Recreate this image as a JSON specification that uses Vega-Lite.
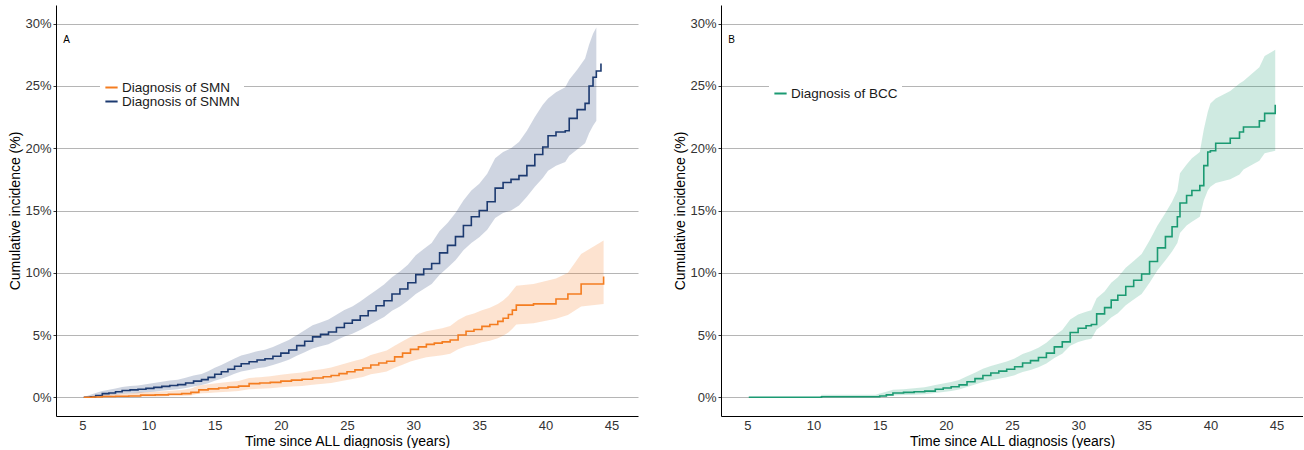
{
  "$schema": "https://vega.github.io/schema/vega-lite/v6.json",
  "padding": {"left": 8, "top": 5, "right": 0, "bottom": 0},
  "background": "white",
  "spacing": 35,
  "config": {
    "font": "Liberation Sans",
    "view": {"stroke": null},
    "axis": {
      "domainColor": "black", "domainWidth": 1,
      "labelFont": "Liberation Sans", "labelFontSize": 13, "labelColor": "#333333",
      "titleFont": "Liberation Sans", "titleFontSize": 14, "titleFontWeight": "normal", "titleColor": "black",
      "tickColor": "#333333", "gridColor": "#b5b5b5", "gridWidth": 1
    },
    "legend": {"labelFont": "Liberation Sans"}
  },
  "datasets": {
    "a": [
      {"s":"Diagnosis of SNMN","t":5.1,"est":0,"lo":0,"hi":0},
      {"s":"Diagnosis of SNMN","t":5.6,"est":0.05,"lo":0,"hi":0.2},
      {"s":"Diagnosis of SNMN","t":6.0,"est":0.15,"lo":0.02,"hi":0.35},
      {"s":"Diagnosis of SNMN","t":6.5,"est":0.3,"lo":0.1,"hi":0.5},
      {"s":"Diagnosis of SNMN","t":7.0,"est":0.35,"lo":0.12,"hi":0.6},
      {"s":"Diagnosis of SNMN","t":7.5,"est":0.45,"lo":0.2,"hi":0.7},
      {"s":"Diagnosis of SNMN","t":8.0,"est":0.55,"lo":0.27,"hi":0.82},
      {"s":"Diagnosis of SNMN","t":8.6,"est":0.6,"lo":0.3,"hi":0.9},
      {"s":"Diagnosis of SNMN","t":9.2,"est":0.65,"lo":0.33,"hi":0.95},
      {"s":"Diagnosis of SNMN","t":9.8,"est":0.72,"lo":0.4,"hi":1.05},
      {"s":"Diagnosis of SNMN","t":10.4,"est":0.8,"lo":0.45,"hi":1.15},
      {"s":"Diagnosis of SNMN","t":11.0,"est":0.88,"lo":0.52,"hi":1.25},
      {"s":"Diagnosis of SNMN","t":11.6,"est":0.95,"lo":0.58,"hi":1.35},
      {"s":"Diagnosis of SNMN","t":12.2,"est":1.02,"lo":0.64,"hi":1.42},
      {"s":"Diagnosis of SNMN","t":12.8,"est":1.15,"lo":0.75,"hi":1.58},
      {"s":"Diagnosis of SNMN","t":13.4,"est":1.3,"lo":0.87,"hi":1.75},
      {"s":"Diagnosis of SNMN","t":14.0,"est":1.42,"lo":0.98,"hi":1.88},
      {"s":"Diagnosis of SNMN","t":14.5,"est":1.6,"lo":1.12,"hi":2.1},
      {"s":"Diagnosis of SNMN","t":15.0,"est":1.85,"lo":1.33,"hi":2.38},
      {"s":"Diagnosis of SNMN","t":15.5,"est":2.05,"lo":1.5,"hi":2.6},
      {"s":"Diagnosis of SNMN","t":16.0,"est":2.25,"lo":1.68,"hi":2.85},
      {"s":"Diagnosis of SNMN","t":16.5,"est":2.5,"lo":1.9,"hi":3.12},
      {"s":"Diagnosis of SNMN","t":17.0,"est":2.7,"lo":2.07,"hi":3.35},
      {"s":"Diagnosis of SNMN","t":17.6,"est":2.85,"lo":2.2,"hi":3.52},
      {"s":"Diagnosis of SNMN","t":18.2,"est":3.0,"lo":2.33,"hi":3.7},
      {"s":"Diagnosis of SNMN","t":18.8,"est":3.1,"lo":2.42,"hi":3.82},
      {"s":"Diagnosis of SNMN","t":19.4,"est":3.3,"lo":2.6,"hi":4.05},
      {"s":"Diagnosis of SNMN","t":20.0,"est":3.55,"lo":2.8,"hi":4.32},
      {"s":"Diagnosis of SNMN","t":20.6,"est":3.8,"lo":3.02,"hi":4.6},
      {"s":"Diagnosis of SNMN","t":21.2,"est":4.15,"lo":3.33,"hi":4.98},
      {"s":"Diagnosis of SNMN","t":21.8,"est":4.5,"lo":3.62,"hi":5.38},
      {"s":"Diagnosis of SNMN","t":22.4,"est":4.85,"lo":3.92,"hi":5.78},
      {"s":"Diagnosis of SNMN","t":23.0,"est":5.05,"lo":4.1,"hi":6.0},
      {"s":"Diagnosis of SNMN","t":23.6,"est":5.25,"lo":4.27,"hi":6.25},
      {"s":"Diagnosis of SNMN","t":24.2,"est":5.6,"lo":4.58,"hi":6.62},
      {"s":"Diagnosis of SNMN","t":24.8,"est":5.95,"lo":4.88,"hi":7.02},
      {"s":"Diagnosis of SNMN","t":25.4,"est":6.2,"lo":5.1,"hi":7.3},
      {"s":"Diagnosis of SNMN","t":26.0,"est":6.55,"lo":5.4,"hi":7.7},
      {"s":"Diagnosis of SNMN","t":26.6,"est":6.95,"lo":5.75,"hi":8.15},
      {"s":"Diagnosis of SNMN","t":27.2,"est":7.35,"lo":6.1,"hi":8.6},
      {"s":"Diagnosis of SNMN","t":27.8,"est":7.75,"lo":6.45,"hi":9.05},
      {"s":"Diagnosis of SNMN","t":28.4,"est":8.3,"lo":6.95,"hi":9.65},
      {"s":"Diagnosis of SNMN","t":29.0,"est":8.7,"lo":7.3,"hi":10.1},
      {"s":"Diagnosis of SNMN","t":29.6,"est":9.2,"lo":7.75,"hi":10.65},
      {"s":"Diagnosis of SNMN","t":30.2,"est":9.85,"lo":8.3,"hi":11.4},
      {"s":"Diagnosis of SNMN","t":30.8,"est":10.3,"lo":8.7,"hi":11.9},
      {"s":"Diagnosis of SNMN","t":31.4,"est":10.75,"lo":9.1,"hi":12.4},
      {"s":"Diagnosis of SNMN","t":32.0,"est":11.6,"lo":9.85,"hi":13.35},
      {"s":"Diagnosis of SNMN","t":32.6,"est":12.2,"lo":10.4,"hi":14.0},
      {"s":"Diagnosis of SNMN","t":33.2,"est":12.9,"lo":11.0,"hi":14.8},
      {"s":"Diagnosis of SNMN","t":33.8,"est":13.8,"lo":11.8,"hi":15.8},
      {"s":"Diagnosis of SNMN","t":34.4,"est":14.5,"lo":12.4,"hi":16.6},
      {"s":"Diagnosis of SNMN","t":35.0,"est":15.0,"lo":12.85,"hi":17.15},
      {"s":"Diagnosis of SNMN","t":35.6,"est":15.7,"lo":13.45,"hi":17.95},
      {"s":"Diagnosis of SNMN","t":36.2,"est":16.8,"lo":14.4,"hi":19.2},
      {"s":"Diagnosis of SNMN","t":36.8,"est":17.25,"lo":14.8,"hi":19.7},
      {"s":"Diagnosis of SNMN","t":37.4,"est":17.5,"lo":15.0,"hi":20.0},
      {"s":"Diagnosis of SNMN","t":38.0,"est":17.8,"lo":15.4,"hi":20.5},
      {"s":"Diagnosis of SNMN","t":38.6,"est":18.6,"lo":16.1,"hi":21.4},
      {"s":"Diagnosis of SNMN","t":39.2,"est":19.5,"lo":16.9,"hi":22.5},
      {"s":"Diagnosis of SNMN","t":39.8,"est":20.1,"lo":17.6,"hi":23.5},
      {"s":"Diagnosis of SNMN","t":40.2,"est":21.0,"lo":18.2,"hi":24.0},
      {"s":"Diagnosis of SNMN","t":40.8,"est":21.3,"lo":18.6,"hi":24.5},
      {"s":"Diagnosis of SNMN","t":41.5,"est":21.4,"lo":18.9,"hi":24.9},
      {"s":"Diagnosis of SNMN","t":41.8,"est":22.4,"lo":19.4,"hi":25.5},
      {"s":"Diagnosis of SNMN","t":42.4,"est":23.1,"lo":19.9,"hi":26.3},
      {"s":"Diagnosis of SNMN","t":43.0,"est":23.6,"lo":20.4,"hi":27.2},
      {"s":"Diagnosis of SNMN","t":43.3,"est":25.0,"lo":21.2,"hi":28.3},
      {"s":"Diagnosis of SNMN","t":43.6,"est":25.7,"lo":21.8,"hi":29.2},
      {"s":"Diagnosis of SNMN","t":43.85,"est":26.2,"lo":22.2,"hi":29.7},
      {"s":"Diagnosis of SNMN","t":44.2,"est":26.8},
      {"s":"Diagnosis of SMN","t":5.1,"est":0,"lo":0,"hi":0},
      {"s":"Diagnosis of SMN","t":5.8,"est":0.03,"lo":0,"hi":0.12},
      {"s":"Diagnosis of SMN","t":6.5,"est":0.06,"lo":0,"hi":0.2},
      {"s":"Diagnosis of SMN","t":7.5,"est":0.08,"lo":0,"hi":0.25},
      {"s":"Diagnosis of SMN","t":8.5,"est":0.1,"lo":0.01,"hi":0.3},
      {"s":"Diagnosis of SMN","t":9.4,"est":0.18,"lo":0.04,"hi":0.4},
      {"s":"Diagnosis of SMN","t":10.5,"est":0.2,"lo":0.05,"hi":0.45},
      {"s":"Diagnosis of SMN","t":11.5,"est":0.25,"lo":0.08,"hi":0.5},
      {"s":"Diagnosis of SMN","t":12.5,"est":0.3,"lo":0.1,"hi":0.58},
      {"s":"Diagnosis of SMN","t":13.2,"est":0.4,"lo":0.15,"hi":0.7},
      {"s":"Diagnosis of SMN","t":13.8,"est":0.6,"lo":0.3,"hi":0.95},
      {"s":"Diagnosis of SMN","t":14.5,"est":0.68,"lo":0.35,"hi":1.05},
      {"s":"Diagnosis of SMN","t":15.3,"est":0.75,"lo":0.4,"hi":1.15},
      {"s":"Diagnosis of SMN","t":16.0,"est":0.82,"lo":0.45,"hi":1.23},
      {"s":"Diagnosis of SMN","t":16.8,"est":0.9,"lo":0.5,"hi":1.32},
      {"s":"Diagnosis of SMN","t":17.6,"est":1.1,"lo":0.65,"hi":1.55},
      {"s":"Diagnosis of SMN","t":18.4,"est":1.15,"lo":0.68,"hi":1.62},
      {"s":"Diagnosis of SMN","t":19.2,"est":1.2,"lo":0.72,"hi":1.7},
      {"s":"Diagnosis of SMN","t":20.0,"est":1.3,"lo":0.8,"hi":1.82},
      {"s":"Diagnosis of SMN","t":20.8,"est":1.38,"lo":0.86,"hi":1.92},
      {"s":"Diagnosis of SMN","t":21.6,"est":1.45,"lo":0.9,"hi":2.0},
      {"s":"Diagnosis of SMN","t":22.4,"est":1.55,"lo":1.0,"hi":2.15},
      {"s":"Diagnosis of SMN","t":23.2,"est":1.65,"lo":1.08,"hi":2.28},
      {"s":"Diagnosis of SMN","t":23.8,"est":1.75,"lo":1.15,"hi":2.4},
      {"s":"Diagnosis of SMN","t":24.4,"est":1.9,"lo":1.28,"hi":2.57},
      {"s":"Diagnosis of SMN","t":25.0,"est":2.05,"lo":1.4,"hi":2.75},
      {"s":"Diagnosis of SMN","t":25.6,"est":2.2,"lo":1.52,"hi":2.93},
      {"s":"Diagnosis of SMN","t":26.2,"est":2.35,"lo":1.64,"hi":3.1},
      {"s":"Diagnosis of SMN","t":26.8,"est":2.6,"lo":1.85,"hi":3.4},
      {"s":"Diagnosis of SMN","t":27.4,"est":2.75,"lo":1.96,"hi":3.58},
      {"s":"Diagnosis of SMN","t":28.0,"est":2.9,"lo":2.08,"hi":3.75},
      {"s":"Diagnosis of SMN","t":28.6,"est":3.25,"lo":2.38,"hi":4.15},
      {"s":"Diagnosis of SMN","t":29.2,"est":3.55,"lo":2.62,"hi":4.5},
      {"s":"Diagnosis of SMN","t":29.8,"est":3.85,"lo":2.88,"hi":4.85},
      {"s":"Diagnosis of SMN","t":30.4,"est":4.05,"lo":3.05,"hi":5.08},
      {"s":"Diagnosis of SMN","t":31.0,"est":4.25,"lo":3.22,"hi":5.3},
      {"s":"Diagnosis of SMN","t":31.6,"est":4.35,"lo":3.3,"hi":5.42},
      {"s":"Diagnosis of SMN","t":32.2,"est":4.45,"lo":3.38,"hi":5.55},
      {"s":"Diagnosis of SMN","t":32.8,"est":4.6,"lo":3.5,"hi":5.72},
      {"s":"Diagnosis of SMN","t":33.4,"est":5.0,"lo":3.85,"hi":6.2},
      {"s":"Diagnosis of SMN","t":34.0,"est":5.3,"lo":4.1,"hi":6.55},
      {"s":"Diagnosis of SMN","t":34.6,"est":5.45,"lo":4.22,"hi":6.72},
      {"s":"Diagnosis of SMN","t":35.2,"est":5.7,"lo":4.42,"hi":7.0},
      {"s":"Diagnosis of SMN","t":35.8,"est":5.85,"lo":4.55,"hi":7.2},
      {"s":"Diagnosis of SMN","t":36.4,"est":6.1,"lo":4.75,"hi":7.5},
      {"s":"Diagnosis of SMN","t":36.8,"est":6.35,"lo":4.95,"hi":7.78},
      {"s":"Diagnosis of SMN","t":37.2,"est":6.65,"lo":5.2,"hi":8.15},
      {"s":"Diagnosis of SMN","t":37.5,"est":7.0,"lo":5.5,"hi":8.55},
      {"s":"Diagnosis of SMN","t":37.8,"est":7.4,"lo":5.85,"hi":8.95},
      {"s":"Diagnosis of SMN","t":39.1,"est":7.5,"lo":5.95,"hi":9.1},
      {"s":"Diagnosis of SMN","t":40.8,"est":7.9,"lo":6.3,"hi":9.55},
      {"s":"Diagnosis of SMN","t":41.7,"est":8.3,"lo":6.6,"hi":10.0},
      {"s":"Diagnosis of SMN","t":42.7,"est":9.1,"lo":7.3,"hi":11.5},
      {"s":"Diagnosis of SMN","t":44.4,"est":9.7,"lo":7.5,"hi":12.6}
    ],
    "b": [
      {"s":"Diagnosis of BCC","t":5.1,"est":0,"lo":0,"hi":0},
      {"s":"Diagnosis of BCC","t":10.5,"est":0,"lo":0,"hi":0},
      {"s":"Diagnosis of BCC","t":10.6,"est":0.05,"lo":0,"hi":0.2},
      {"s":"Diagnosis of BCC","t":14.7,"est":0.05,"lo":0,"hi":0.2},
      {"s":"Diagnosis of BCC","t":15.0,"est":0.1,"lo":0.02,"hi":0.3},
      {"s":"Diagnosis of BCC","t":15.5,"est":0.2,"lo":0.07,"hi":0.45},
      {"s":"Diagnosis of BCC","t":16.0,"est":0.35,"lo":0.15,"hi":0.6},
      {"s":"Diagnosis of BCC","t":16.8,"est":0.4,"lo":0.18,"hi":0.65},
      {"s":"Diagnosis of BCC","t":17.6,"est":0.45,"lo":0.2,"hi":0.72},
      {"s":"Diagnosis of BCC","t":18.4,"est":0.5,"lo":0.24,"hi":0.8},
      {"s":"Diagnosis of BCC","t":19.2,"est":0.65,"lo":0.35,"hi":0.98},
      {"s":"Diagnosis of BCC","t":19.8,"est":0.75,"lo":0.42,"hi":1.1},
      {"s":"Diagnosis of BCC","t":20.4,"est":0.85,"lo":0.5,"hi":1.22},
      {"s":"Diagnosis of BCC","t":21.0,"est":1.0,"lo":0.62,"hi":1.4},
      {"s":"Diagnosis of BCC","t":21.6,"est":1.25,"lo":0.82,"hi":1.7},
      {"s":"Diagnosis of BCC","t":22.2,"est":1.5,"lo":1.02,"hi":1.98},
      {"s":"Diagnosis of BCC","t":22.8,"est":1.75,"lo":1.22,"hi":2.3},
      {"s":"Diagnosis of BCC","t":23.4,"est":1.95,"lo":1.38,"hi":2.52},
      {"s":"Diagnosis of BCC","t":24.0,"est":2.1,"lo":1.5,"hi":2.7},
      {"s":"Diagnosis of BCC","t":24.6,"est":2.25,"lo":1.62,"hi":2.88},
      {"s":"Diagnosis of BCC","t":25.2,"est":2.45,"lo":1.78,"hi":3.12},
      {"s":"Diagnosis of BCC","t":25.8,"est":2.75,"lo":2.03,"hi":3.47},
      {"s":"Diagnosis of BCC","t":26.4,"est":2.95,"lo":2.2,"hi":3.7},
      {"s":"Diagnosis of BCC","t":27.0,"est":3.2,"lo":2.42,"hi":3.98},
      {"s":"Diagnosis of BCC","t":27.6,"est":3.55,"lo":2.72,"hi":4.38},
      {"s":"Diagnosis of BCC","t":28.2,"est":4.05,"lo":3.15,"hi":4.95},
      {"s":"Diagnosis of BCC","t":28.8,"est":4.45,"lo":3.5,"hi":5.4},
      {"s":"Diagnosis of BCC","t":29.4,"est":5.2,"lo":4.15,"hi":6.25},
      {"s":"Diagnosis of BCC","t":30.0,"est":5.55,"lo":4.45,"hi":6.65},
      {"s":"Diagnosis of BCC","t":30.6,"est":5.75,"lo":4.62,"hi":6.88},
      {"s":"Diagnosis of BCC","t":31.0,"est":5.85,"lo":4.7,"hi":7.0},
      {"s":"Diagnosis of BCC","t":31.4,"est":6.7,"lo":5.45,"hi":7.95},
      {"s":"Diagnosis of BCC","t":32.0,"est":7.2,"lo":5.9,"hi":8.5},
      {"s":"Diagnosis of BCC","t":32.5,"est":7.8,"lo":6.4,"hi":9.2},
      {"s":"Diagnosis of BCC","t":33.0,"est":8.2,"lo":6.75,"hi":9.65},
      {"s":"Diagnosis of BCC","t":33.6,"est":8.9,"lo":7.4,"hi":10.4},
      {"s":"Diagnosis of BCC","t":34.2,"est":9.4,"lo":7.85,"hi":10.95},
      {"s":"Diagnosis of BCC","t":34.8,"est":9.9,"lo":8.3,"hi":11.5},
      {"s":"Diagnosis of BCC","t":35.4,"est":10.9,"lo":9.2,"hi":12.6},
      {"s":"Diagnosis of BCC","t":36.0,"est":12.0,"lo":10.2,"hi":13.8},
      {"s":"Diagnosis of BCC","t":36.6,"est":12.9,"lo":11.0,"hi":14.8},
      {"s":"Diagnosis of BCC","t":37.1,"est":13.7,"lo":11.7,"hi":15.7},
      {"s":"Diagnosis of BCC","t":37.5,"est":14.5,"lo":12.4,"hi":16.6},
      {"s":"Diagnosis of BCC","t":37.7,"est":15.6,"lo":13.2,"hi":18.0},
      {"s":"Diagnosis of BCC","t":38.2,"est":16.2,"lo":13.8,"hi":18.7},
      {"s":"Diagnosis of BCC","t":38.6,"est":16.6,"lo":14.1,"hi":19.2},
      {"s":"Diagnosis of BCC","t":39.2,"est":17.0,"lo":14.5,"hi":19.7},
      {"s":"Diagnosis of BCC","t":39.5,"est":18.6,"lo":15.8,"hi":21.5},
      {"s":"Diagnosis of BCC","t":39.8,"est":19.7,"lo":16.6,"hi":22.9},
      {"s":"Diagnosis of BCC","t":40.0,"est":19.8,"lo":16.9,"hi":23.6},
      {"s":"Diagnosis of BCC","t":40.4,"est":20.4,"lo":17.2,"hi":24.0},
      {"s":"Diagnosis of BCC","t":41.5,"est":20.8,"lo":17.5,"hi":24.6},
      {"s":"Diagnosis of BCC","t":42.2,"est":21.3,"lo":17.9,"hi":25.2},
      {"s":"Diagnosis of BCC","t":42.5,"est":21.7,"lo":18.3,"hi":25.4},
      {"s":"Diagnosis of BCC","t":43.7,"est":22.2,"lo":19.0,"hi":26.5},
      {"s":"Diagnosis of BCC","t":44.1,"est":22.8,"lo":19.6,"hi":27.4},
      {"s":"Diagnosis of BCC","t":44.9,"est":23.5,"lo":19.8,"hi":27.9}
    ],
    "labA": [{"lab":"A","t":3.8,"ci":28.7}],
    "labB": [{"lab":"B","t":3.8,"ci":28.7}]
  },
  "resolve": {"scale": {"color": "independent"}, "legend": {"color": "independent"}},
  "hconcat": [
    {
      "width": 582, "height": 411,
      "encoding": {
        "x": {"field": "t", "type": "quantitative", "scale": {"domain": [3, 47], "nice": false, "zero": false},
              "axis": {"values": [5,10,15,20,25,30,35,40,45], "grid": false, "ticks": false, "labelPadding": 3, "titlePadding": 2, "title": "Time since ALL diagnosis (years)"}}
      },
      "layer": [
        {
          "data": {"name": "a"},
          "transform": [{"filter": "isValid(datum.lo)"}],
          "mark": {"type": "area", "interpolate": "linear", "opacity": 0.21},
          "encoding": {
            "y": {"field": "lo", "type": "quantitative", "scale": {"domain": [-1.5, 31.5], "nice": false, "zero": false},
                  "axis": {"values": [0,5,10,15,20,25,30], "labelExpr": "datum.value + '%'", "grid": true, "tickSize": 3, "labelPadding": 2, "titlePadding": 2, "title": "Cumulative incidence (%)"}},
            "y2": {"field": "hi"},
            "color": {"field": "s", "type": "nominal", "scale": {"domain": ["Diagnosis of SMN", "Diagnosis of SNMN"], "range": ["#f47d20", "#1c3a70"]}}
          }
        },
        {
          "data": {"name": "a"},
          "mark": {"type": "line", "interpolate": "step-after", "strokeWidth": 1.6},
          "encoding": {
            "y": {"field": "est", "type": "quantitative"},
            "color": {"field": "s", "type": "nominal",
                      "legend": {"orient": "none", "legendX": 44, "legendY": 71, "title": null, "fillColor": "white", "padding": 4,
                                 "symbolType": "stroke", "symbolStrokeWidth": 2, "symbolSize": 150, "symbolOpacity": 1, "labelFontSize": 13.5, "labelColor": "#1a1a1a", "labelOffset": 3, "rowPadding": 0,
                                 "encode": {"symbols": {"update": {"opacity": {"value": 1}, "strokeOpacity": {"value": 1}, "fillOpacity": {"value": 0}}}}}}
          }
        },
        {
          "data": {"name": "labA"},
          "mark": {"type": "text", "fontSize": 10, "color": "black", "align": "center", "baseline": "middle"},
          "encoding": {"y": {"field": "ci", "type": "quantitative"}, "text": {"field": "lab"}}
        }
      ]
    },
    {
      "width": 582, "height": 411,
      "encoding": {
        "x": {"field": "t", "type": "quantitative", "scale": {"domain": [3, 47], "nice": false, "zero": false},
              "axis": {"values": [5,10,15,20,25,30,35,40,45], "grid": false, "ticks": false, "labelPadding": 3, "titlePadding": 2, "title": "Time since ALL diagnosis (years)"}}
      },
      "layer": [
        {
          "data": {"name": "b"},
          "mark": {"type": "area", "interpolate": "linear", "opacity": 0.21},
          "encoding": {
            "y": {"field": "lo", "type": "quantitative", "scale": {"domain": [-1.5, 31.5], "nice": false, "zero": false},
                  "axis": {"values": [0,5,10,15,20,25,30], "labelExpr": "datum.value + '%'", "grid": true, "tickSize": 3, "labelPadding": 2, "titlePadding": 2, "title": "Cumulative incidence (%)"}},
            "y2": {"field": "hi"},
            "color": {"field": "s", "type": "nominal", "scale": {"domain": ["Diagnosis of BCC"], "range": ["#1b9a72"]}}
          }
        },
        {
          "data": {"name": "b"},
          "mark": {"type": "line", "interpolate": "step-after", "strokeWidth": 1.6},
          "encoding": {
            "y": {"field": "est", "type": "quantitative"},
            "color": {"field": "s", "type": "nominal",
                      "legend": {"orient": "none", "legendX": 48, "legendY": 77, "title": null, "fillColor": "white", "padding": 4,
                                 "symbolType": "stroke", "symbolStrokeWidth": 2, "symbolSize": 150, "symbolOpacity": 1, "labelFontSize": 13.5, "labelColor": "#1a1a1a", "labelOffset": 3, "rowPadding": 0,
                                 "encode": {"symbols": {"update": {"opacity": {"value": 1}, "strokeOpacity": {"value": 1}, "fillOpacity": {"value": 0}}}}}}
          }
        },
        {
          "data": {"name": "labB"},
          "mark": {"type": "text", "fontSize": 10, "color": "black", "align": "center", "baseline": "middle"},
          "encoding": {"y": {"field": "ci", "type": "quantitative"}, "text": {"field": "lab"}}
        }
      ]
    }
  ]
}
